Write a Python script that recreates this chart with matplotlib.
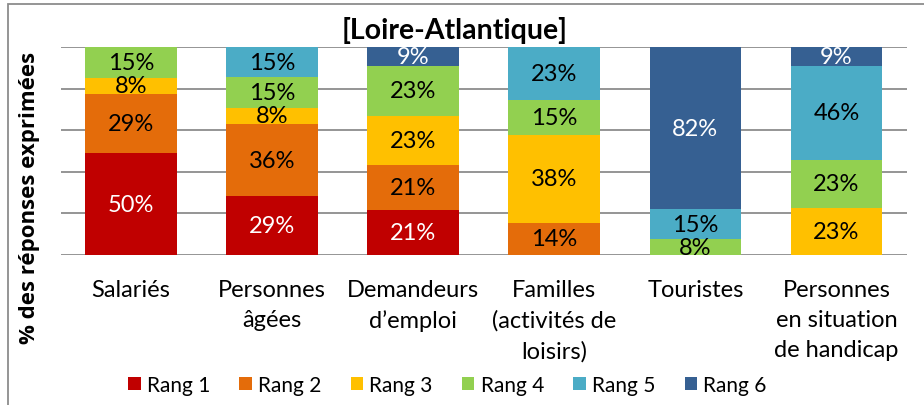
import numpy as np
import matplotlib
matplotlib.use("Agg")
import matplotlib.pyplot as plt
from matplotlib.patches import Rectangle

plt.rcParams['font.family'] = ['Lato', 'DejaVu Sans']

categories = ["Salariés", "Personnes\nâgées", "Demandeurs\nd\u2019emploi",
              "Familles\n(activités de\nloisirs)", "Touristes",
              "Personnes\nen situation\nde handicap"]
ranks = ["Rang 1", "Rang 2", "Rang 3", "Rang 4", "Rang 5", "Rang 6"]

# displayed percentages (bars are 100% stacked, labels keep the raw values)
rang1 = [50, 29, 21, 0, 0, 0]
rang2 = [29, 36, 21, 14, 0, 0]
rang3 = [8, 8, 23, 38, 0, 23]
rang4 = [15, 15, 23, 15, 8, 23]
rang5 = [0, 15, 0, 23, 15, 46]
rang6 = [0, 0, 9, 0, 82, 9]

colors = ["#C00000", "#E46C0A", "#FFC000", "#92D050", "#4BACC6", "#366092"]
text_colors = ["white", "black", "black", "black", "black", "white"]

values = np.array([rang1, rang2, rang3, rang4, rang5, rang6], dtype=float)
shares = values / values.sum(axis=0) * 100

fig = plt.figure(figsize=(9.24, 4.06), dpi=100)
ax = fig.add_axes([0.0655, 0.3695, 0.9161, 0.5123])

x = np.arange(len(categories))
bottom = np.zeros(len(categories))
for i in range(len(ranks)):
    bars = ax.bar(x, shares[i], 0.65, bottom=bottom, color=colors[i],
                  label=ranks[i], zorder=3)
    for j, b in enumerate(bars):
        if values[i, j] > 0:
            ax.text(b.get_x() + b.get_width() / 2, bottom[j] + shares[i, j] / 2,
                    f"{int(values[i, j])}%", ha="center", va="center",
                    fontsize=17, color=text_colors[i], zorder=4)
    bottom += shares[i]

ax.set_xlim(-0.5, len(categories) - 0.5)
ax.set_ylim(0, 100)
ax.set_yticks([0, 20, 40, 60, 80, 100])
ax.set_yticklabels([])
ax.yaxis.grid(True, color="#8c8c8c", linewidth=1.3, zorder=0)
ax.tick_params(axis="y", length=0)
ax.tick_params(axis="x", length=0, pad=17)
for s in ax.spines.values():
    s.set_visible(False)

ax.set_xticks(x)
ax.set_xticklabels(categories, fontsize=17, va="top", linespacing=1.55)

ax.set_ylabel("% des réponses exprimées", fontsize=16, fontweight="bold",
              family=["Open Sans", "DejaVu Sans"])
ax.yaxis.set_label_coords(-0.024, 0.28)

fig.text(0.492, 0.925, "[Loire-Atlantique]", ha="center", va="center",
         fontsize=20.5, fontweight="bold")

ax.legend(loc="center", bbox_to_anchor=(0.457, -0.625), ncol=6, frameon=False,
          fontsize=15, handlelength=0.6, handleheight=0.6, handletextpad=0.3,
          columnspacing=1.4)

# outer chart frame (only top and left edges are visible in the crop)
fig.patches.append(Rectangle((8 / 924, -0.1), 1.2, 1.1 - 5 / 406,
                             transform=fig.transFigure, fill=False,
                             edgecolor="#8c8c8c", linewidth=1.3))

fig.savefig("out.png", dpi=100)
